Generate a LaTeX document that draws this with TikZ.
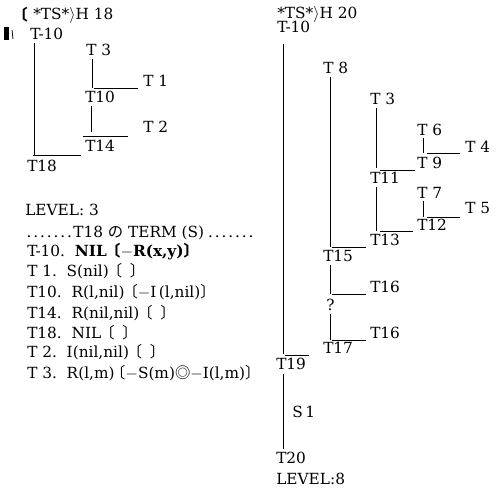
\documentclass[tikz,border=0pt]{standalone}
\usepackage{fontspec}
\setmainfont{DejaVu Serif}
\newfontfamily\cjk{Noto Sans CJK JP}
\usetikzlibrary{positioning}
\newcommand{\lbk}{\makebox[0.55em][r]{\cjk 〔}}
\newcommand{\rbk}{\makebox[0.55em][l]{\cjk 〕}}
\newcommand{\ang}{$\rangle$}

\tikzset{
  lbl/.style={inner sep=0pt, anchor=west},
  edge/.style={line width=0.7pt},
}

\begin{document}
\begin{tikzpicture}[x=0.75pt, y=-0.75pt, font=\fontsize{11.5}{13}\selectfont]
  \useasboundingbox (0,0) rectangle (501,490);

  % ---- LEFT tree (H 18) ----
  \fill (4,27) rectangle (9,40);
  \draw[line width=0.6pt] (12,30) -- (13,39);
  \node[lbl] (lbrk) at (19,15) {\bfseries\lbk};
  \node[lbl] (lhead) at (33,15) {*TS*\ang H 18};
  \node[lbl] (lroot) at (30,34) {T-10};
  \node[lbl] (l3) at (86,50) {T 3};
  \node[lbl] (l1) at (143,81) {T 1};
  \node[lbl] (l10) at (85,97) {T10};
  \node[lbl] (l2) at (143,127) {T 2};
  \node[lbl] (l14) at (85,146) {T14};
  \node[lbl] (l18) at (27,166) {T18};
  % junctions
  \coordinate (lj18) at (34,155);
  \coordinate (lj10) at (92,88);
  \coordinate (lj14) at (91,136);
  % connectors
  \draw[edge] ([yshift=-2.5pt]lroot.south -| lj18) -- (lj18);
  \draw[edge] ([xshift=-1pt]lj18) -- ++(48,0);
  \draw[edge] ([yshift=-2.5pt]l3.south -| lj10) -- (lj10);
  \draw[edge, shorten >=3.5pt] ([xshift=1.5pt]lj10) -- (l1.west |- lj10);
  \draw[edge] ([yshift=-2.5pt]l10.south -| lj14) -- ([yshift=3pt]lj14);
  \draw[edge, shorten >=11pt] ([xshift=-6pt]lj14) -- (l2.west |- lj14);

  % ---- term list ----
  \node[lbl] (lev) at (25,210) {LEVEL: 3};
  \node[lbl] (ttl) at (25,233) {\makebox[36pt]{\dotfill}T18 {\cjk の} TERM (S)\makebox[40pt]{\dotfill}};
  \node[lbl] (tm10) at (27,252) {T-10.\ \ \bfseries NIL \lbk$-$R(x,y)\rbk};
  \node[lbl] (t1) at (27,271) {T 1.\ \ S(nil) \lbk\enspace\rbk};
  \node[lbl] (t10) at (27,292) {T10.\ \ R(l,nil) \lbk$-$I\,(l,nil)\rbk};
  \node[lbl] (t14) at (27,313) {T14.\ \ R(nil,nil) \lbk\enspace\rbk};
  \node[lbl] (t18) at (27,333) {T18.\ \ NIL \lbk\enspace\rbk};
  \node[lbl] (t2) at (27,352) {T 2.\ \ I(nil,nil) \lbk\enspace\rbk};
  \node[lbl] (t3) at (27,373) {T 3.\ \ R(l,m)\,\lbk$-$S(m){\cjk ◎}$-$I(l,m)\rbk};

  % ---- RIGHT tree (H 20) ----
  \node[lbl] (rhead) at (277,14) {*TS*\ang H 20};
  \node[lbl] (rroot) at (277,27) {T-10};
  \node[lbl] (r8) at (323,68) {T 8};
  \node[lbl] (r3) at (370,99) {T 3};
  \node[lbl] (r6) at (417,130) {T 6};
  \node[lbl] (r4) at (465,147) {T 4};
  \node[lbl] (r9) at (417,163) {T 9};
  \node[lbl] (r11) at (370,178) {T11};
  \node[lbl] (r7) at (417,193) {T 7};
  \node[lbl] (r5) at (465,208) {T 5};
  \node[lbl] (r12) at (417,225) {T12};
  \node[lbl] (r13) at (370,240) {T13};
  \node[lbl] (r15) at (323,256) {T15};
  \node[lbl] (r16a) at (370,287) {T16};
  \node[lbl] (rq) at (326,305) {?};
  \node[lbl] (r16b) at (370,333) {T16};
  \node[lbl] (r17) at (323,348) {T17};
  \node[lbl] (r19) at (276,364) {T19};
  \node[lbl] (rs1) at (292,412) {S\,1};
  \node[lbl] (r20) at (276,458) {T20};
  \node[lbl] (rlev) at (276,479) {LEVEL:8};
  % junctions
  \coordinate (rj19) at (283,355);
  \coordinate (rj15) at (330,247);
  \coordinate (rj16) at (330,294);
  \coordinate (rj17) at (330,340);
  \coordinate (rj11) at (376,170);
  \coordinate (rj13) at (376,231);
  \coordinate (rj9) at (423,153);
  \coordinate (rj12) at (423,217);
  % connectors
  \draw[edge] ([yshift=-8pt]rroot.south -| rj19) -- ([yshift=1pt]rj19);
  \draw[edge] ([xshift=1.5pt]rj19) -- ++(24,0);
  \draw[edge, shorten <=3pt, shorten >=2pt] (r19.south -| rj19) -- (r20.north -| rj19);
  \draw[edge] ([yshift=-2.5pt]r8.south -| rj15) -- (rj15);
  \draw[edge, shorten >=3pt] ([xshift=1.5pt]rj15) -- (r13.west |- rj15);
  \draw[edge] ([yshift=-2.5pt]r15.south -| rj16) -- (rj16);
  \draw[edge, shorten >=3pt] ([xshift=1.5pt]rj16) -- (r16a.west |- rj16);
  \draw[edge] ([yshift=-2.5pt]rq.south -| rj17) -- (rj17);
  \draw[edge, shorten >=3pt] ([xshift=1.5pt]rj17) -- (r16b.west |- rj17);
  \draw[edge] ([yshift=-2.5pt]r3.south -| rj11) -- ([yshift=1.5pt]rj11);
  \draw[edge, shorten >=1.5pt] ([xshift=3pt]rj11) -- (r9.west |- rj11);
  \draw[edge] ([yshift=-2.5pt]r11.south -| rj13) -- (rj13);
  \draw[edge, shorten >=3pt] ([xshift=3pt]rj13) -- (r12.west |- rj13);
  \draw[edge] ([yshift=-1.5pt]r6.south -| rj9) -- (rj9);
  \draw[edge, shorten >=3.5pt] ([xshift=3pt]rj9) -- (r4.west |- rj9);
  \draw[edge] ([yshift=-1.5pt]r7.south -| rj12) -- (rj12);
  \draw[edge, shorten >=3.5pt] ([xshift=3pt]rj12) -- (r5.west |- rj12);
\end{tikzpicture}
\end{document}
